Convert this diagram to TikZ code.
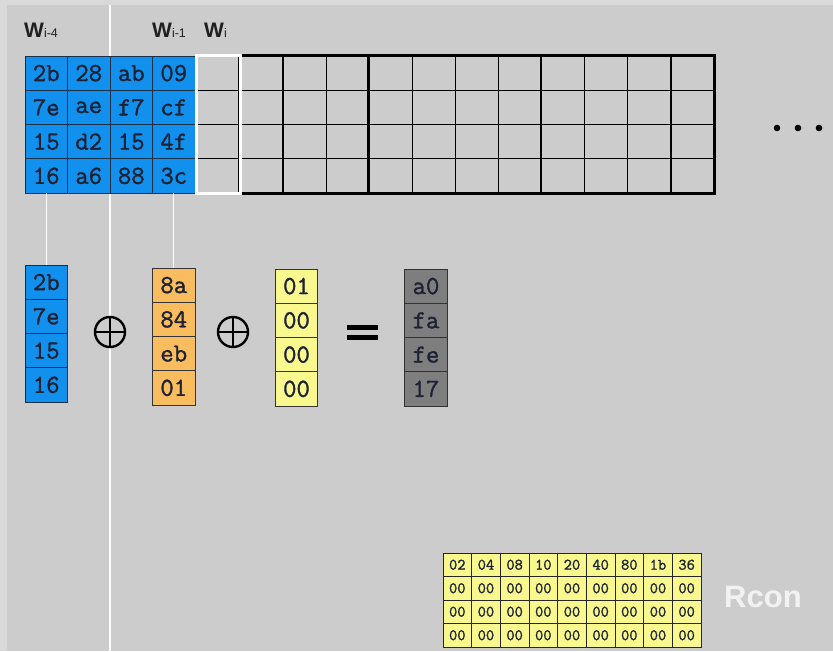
\documentclass[tikz,border=0pt]{standalone}
\usepackage{fontspec}
\newfontfamily\labelfont{Liberation Sans}
\newfontfamily\cellfont[FakeBold=1.3]{Latin Modern Mono}
\definecolor{keyBack}{HTML}{CCCCCC}
\definecolor{keyRim}{HTML}{D9D9D9}
\definecolor{keyBlue}{HTML}{1190EE}
\definecolor{keyOrange}{HTML}{F9BC5E}
\definecolor{keyYellow}{HTML}{F8F88E}
\definecolor{keyGray}{HTML}{7E7E7E}
\definecolor{keyInk}{HTML}{1C2233}
\definecolor{keyEdge}{HTML}{17304A}
\tikzset{
  key cell/.style={draw=keyEdge, line width=0.9pt, minimum width=42.5pt, minimum height=34.25pt, inner sep=0pt, font=\fontsize{26}{26}\cellfont, text=keyInk},
  key blue/.style={key cell, fill=keyBlue},
  key orange/.style={key cell, fill=keyOrange, draw=black!80},
  key yellow/.style={key cell, fill=keyYellow, draw=black!80},
  key gray/.style={key cell, fill=keyGray, draw=black!80},
  key empty/.style={draw=black, line width=1.4pt, minimum width=43.08pt, minimum height=34.25pt, inner sep=0pt},
  key link/.style={draw=white, line width=1.1pt},
  key label/.style={font=\labelfont, text=black!88, anchor=base west, inner sep=0pt},
  key xor/.style={circle, draw=black, line width=2.4pt, minimum size=30pt, inner sep=0pt, outer sep=0pt},
  rcon cell/.style={draw=black!85, fill=keyYellow, line width=0.9pt, minimum width=28.67pt, minimum height=23.5pt, inner sep=0pt, font=\fontsize{16}{16}\cellfont, text=keyInk},
}

\begin{document}
\begin{tikzpicture}[x=1pt, y=-1pt]
  \fill[keyBack] (0,0) rectangle (833,651);
  \useasboundingbox (0,0) rectangle (833,651);
  \fill[keyRim] (0,0) rectangle (833,5);
  \fill[keyRim] (0,0) rectangle (7,651);

  % long white guide behind everything
  \coordinate (guide top) at (110,5);
  \coordinate (guide bot) at (110,651);
  \draw[key link] (guide top) -- (guide bot);

  % word labels
  \node[key label] (lab-w4) at (24,37) {{\fontsize{21}{21}\selectfont\bfseries W}{\fontsize{12.5}{12.5}\selectfont i-4}};
  \node[key label] (lab-w1) at (152,37) {{\fontsize{21}{21}\selectfont\bfseries W}{\fontsize{12.5}{12.5}\selectfont i-1}};
  \node[key label] (lab-wi) at (204,37) {{\fontsize{21}{21}\selectfont\bfseries W}{\fontsize{12.5}{12.5}\selectfont i}};

  % key words w_{i-4} .. w_{i-1}
  \foreach \row/\a/\b/\c/\d in {0/2b/28/ab/09, 1/7e/ae/f7/cf, 2/15/d2/15/4f, 3/16/a6/88/3c} {
    \foreach \col/\v in {0/\a, 1/\b, 2/\c, 3/\d} {
      \node[key blue] (w-\col-\row) at ({46.25+42.5*\col},{73.1+34.25*\row}) {\v};
    }
  }

  % empty schedule
  \foreach \k in {0,...,11} {
    \foreach \row in {0,...,3} {
      \node[key empty] (e-\k-\row) at ({218.5+43.08*\k},{73.1+34.25*\row}) {};
    }
  }
  \draw[line width=2.4pt] (e-1-0.north west) rectangle (e-11-3.south east);
  \draw[line width=2.4pt] (e-4-0.north west) -- (e-4-3.south west);
  \draw[line width=2.4pt] (e-8-0.north west) -- (e-8-3.south west);
  \draw[white, line width=2.8pt] (e-0-0.north west) rectangle (e-0-3.south east);

  % more words follow
  \foreach \x in {777,798,819} {
    \fill[black] (\x,128) circle (3.3pt);
  }

  % the four columns of the sum
  \foreach \n/\v in {0/2b, 1/7e, 2/15, 3/16} {
    \node[key blue] (col-a-\n) at (46.25,{282.1+34.25*\n}) {\v};
  }
  \foreach \n/\v in {0/8a, 1/84, 2/eb, 3/01} {
    \node[key orange] (col-b-\n) at (173.75,{285.1+34.25*\n}) {\v};
  }
  \foreach \n/\v in {0/01, 1/00, 2/00, 3/00} {
    \node[key yellow] (col-c-\n) at (296.5,{286.1+34.25*\n}) {\v};
  }
  \foreach \n/\v in {0/a0, 1/fa, 2/fe, 3/17} {
    \node[key gray] (col-d-\n) at (426,{286.1+34.25*\n}) {\v};
  }
  \draw[key link] (w-0-3.south) -- (col-a-0.north);
  \draw[key link] (w-3-3.south) -- (col-b-0.north);

  % operators
  \node[key xor] (xor-1) at (110,332) {};
  \draw[line width=2.4pt] (xor-1.north) -- (xor-1.south) (xor-1.west) -- (xor-1.east);
  \node[key xor] (xor-2) at (233,332) {};
  \draw[line width=2.4pt] (xor-2.north) -- (xor-2.south) (xor-2.west) -- (xor-2.east);
  \node[minimum width=31pt, minimum height=14pt, inner sep=0pt] (eq) at (362.5,332.5) {};
  \fill[black] (eq.north west) rectangle ([yshift=-5pt]eq.north east);
  \fill[black] (eq.south west) rectangle ([yshift=5pt]eq.south east);

  % round constants
  \foreach \c/\v in {0/02, 1/04, 2/08, 3/10, 4/20, 5/40, 6/80, 7/1b, 8/36} {
    \node[rcon cell] (rc-\c-0) at ({457.3+28.67*\c},564.75) {\v};
    \foreach \r in {1,2,3} {
      \node[rcon cell] (rc-\c-\r) at ({457.3+28.67*\c},{564.75+23.5*\r}) {00};
    }
  }
  \node[font=\labelfont\bfseries\fontsize{31}{31}\selectfont, text=white!95!black, anchor=base west, inner sep=0pt] (rcon) at (724,607) {Rcon};
\end{tikzpicture}
\end{document}
